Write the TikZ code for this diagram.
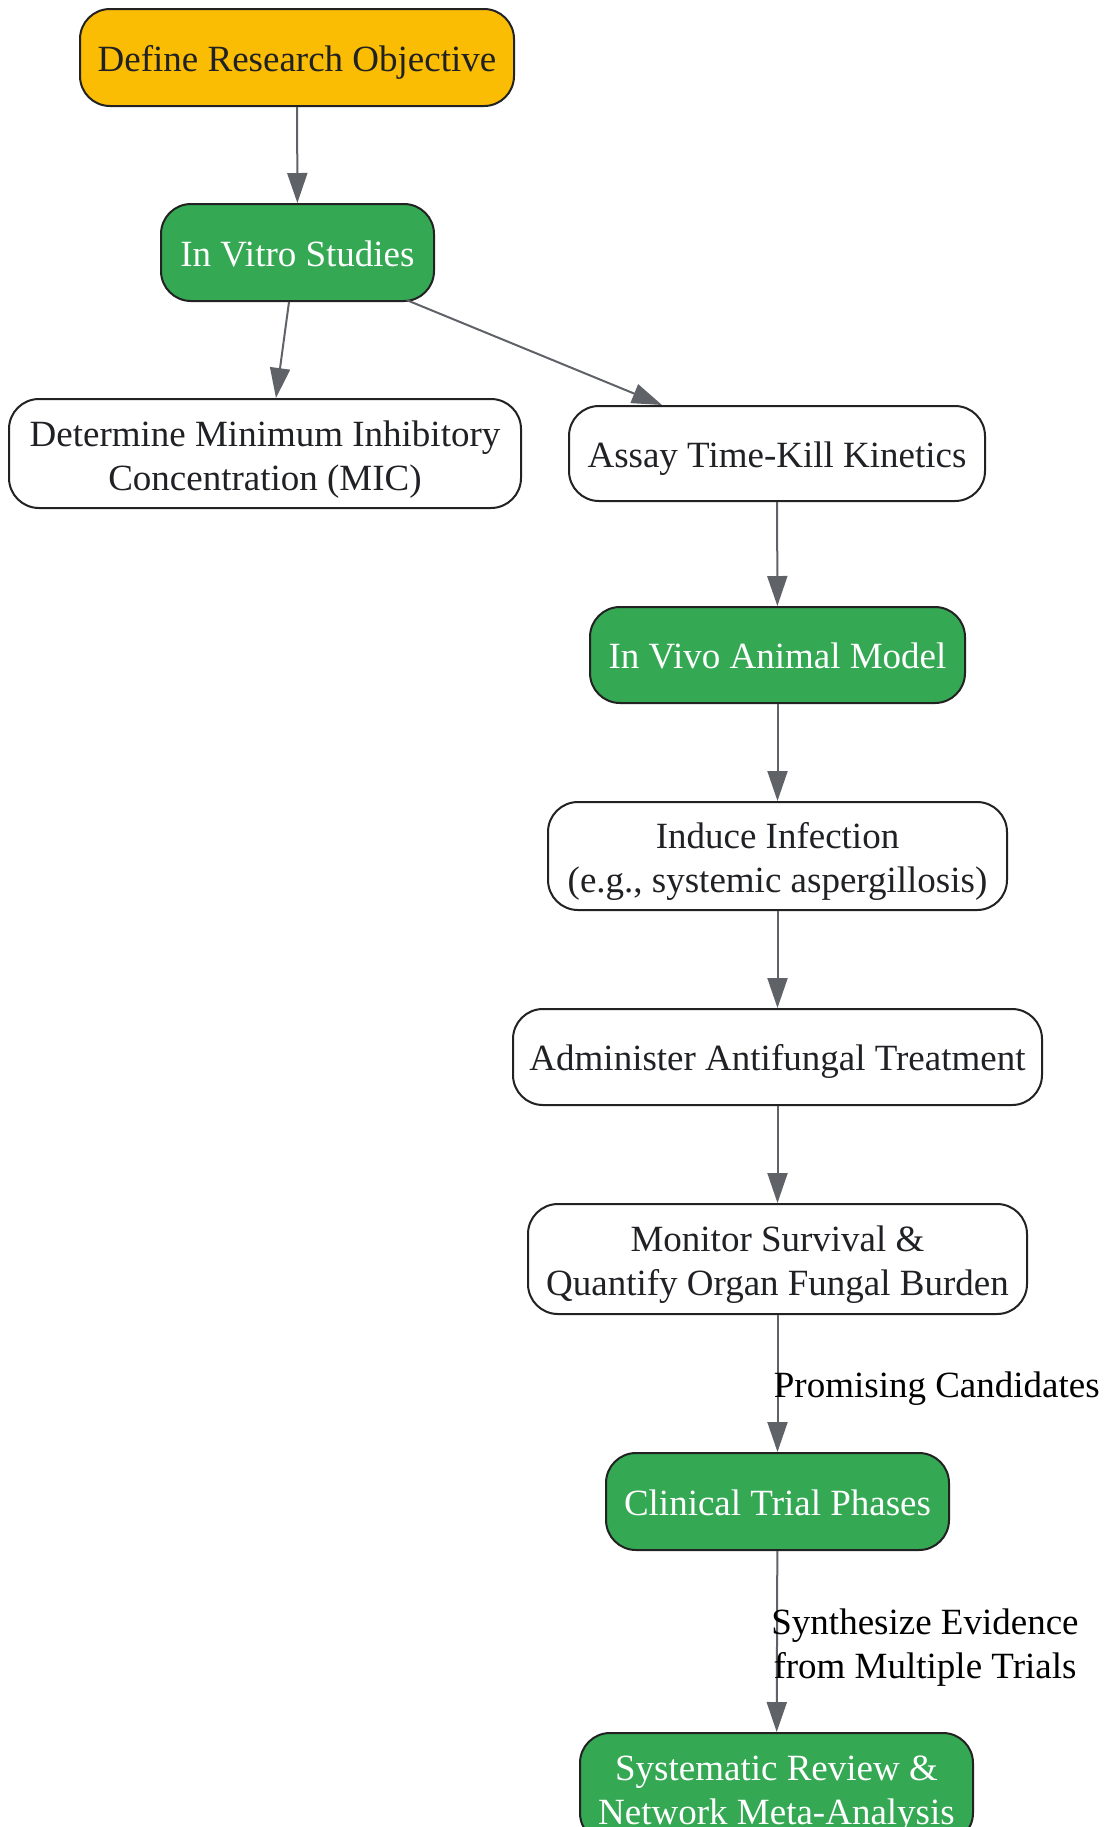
\documentclass[tikz,border=0pt]{standalone}
\usepackage{fontspec}
\setmainfont{Liberation Serif}
\usetikzlibrary{arrows.meta,calc}
\definecolor{gy}{HTML}{FBBC04}
\definecolor{gg}{HTML}{34A853}
\definecolor{bd}{HTML}{222222}
\definecolor{ed}{HTML}{5F6368}
\definecolor{tx}{HTML}{202124}
\newcommand{\mystrut}{\rule[-5pt]{0pt}{23.8pt}}
\newcommand{\twoline}[2]{\begin{tabular}{@{}c@{}}\rule{0pt}{21.4pt}#1\\#2\end{tabular}}
\begin{document}
\begin{tikzpicture}[x=0.5pt,y=-0.5pt,
 box/.style={draw=bd, line width=1pt, rounded corners=15pt, align=center, inner sep=0pt,
   font=\fontsize{18.5}{22}\selectfont, text=tx, fill=white,
   execute at begin node=\mystrut, execute at end node=\mystrut},
 yel/.style={box, fill=gy},
 grn/.style={box, fill=gg, text=white},
 two/.style={execute at begin node={}, execute at end node={}},
 edge/.style={draw=ed, line width=1pt, -{Triangle[length=15pt,width=10pt]}},
 elab/.style={font=\fontsize{18.5}{22}\selectfont, text=black, align=center, inner sep=0pt,
   execute at begin node=\mystrut, execute at end node=\mystrut}]
\useasboundingbox[fill=white] (0,0) rectangle (1105,1827);

\node[yel, minimum width=217pt, minimum height=48.5pt] (define) at (297,57.5) {Define Research Objective};
\node[grn, minimum width=136.5pt, minimum height=48.5pt] (invitro) at (297.5,252.5) {In Vitro Studies};
\node[box, two, minimum width=256pt, minimum height=54.5pt] (mic) at (265,453.5) {\twoline{Determine Minimum Inhibitory}{Concentration (MIC)}};
\node[box, minimum width=208pt, minimum height=47.5pt] (assay) at (777,453.5) {Assay Time-Kill Kinetics};
\node[grn, minimum width=187.5pt, minimum height=48pt] (invivo) at (777.5,655) {In Vivo Animal Model};
\node[box, two, minimum width=229.5pt, minimum height=54pt] (induce) at (777.5,856) {\twoline{Induce Infection}{(e.g., systemic aspergillosis)}};
\node[box, minimum width=264.5pt, minimum height=48pt] (admin) at (777.5,1057) {Administer Antifungal Treatment};
\node[box, two, minimum width=249.5pt, minimum height=55pt] (monitor) at (777.5,1259) {\twoline{Monitor Survival \&}{Quantify Organ Fungal Burden}};
\node[grn, minimum width=171.5pt, minimum height=48.5pt] (clinical) at (777.5,1501.5) {Clinical Trial Phases};
\node[grn, two, minimum width=196.5pt, minimum height=55pt] (review) at (776.5,1788) {\twoline{Systematic Review \&}{Network Meta-Analysis}};

\draw[edge] (define) -- (invitro);
\draw[edge] ($(invitro.south)+(-8.5,0)$) -- ($(mic.north)+(11,0)$);
\draw[edge] ($(invitro.south)+(109,-2)$) -- ($(assay.north)+(-115,0)$);
\draw[edge] (assay) -- (invivo);
\draw[edge] (invivo) -- (induce);
\draw[edge] (induce) -- (admin);
\draw[edge] (admin) -- (monitor);
\draw[edge] (monitor) -- node[elab, midway, anchor=west, xshift=-2.3pt] {Promising Candidates} (clinical);
\draw[edge] (clinical) -- node[elab, two, midway, anchor=west, xshift=-3.3pt] {\twoline{Synthesize Evidence}{from Multiple Trials}} (review);
\end{tikzpicture}
\end{document}
